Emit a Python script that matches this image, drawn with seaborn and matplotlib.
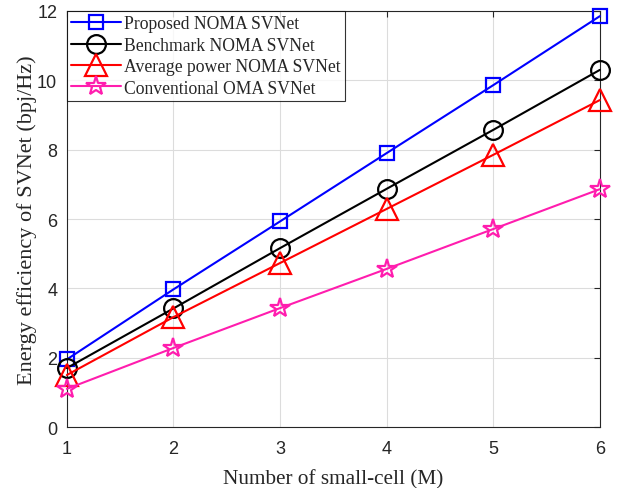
import pandas as pd
import seaborn as sns
import matplotlib.pyplot as plt

# Data
M = [1, 2, 3, 4, 5, 6]
proposed = [1.95, 3.97, 5.93, 7.90, 9.86, 11.85]
benchmark = [1.70, 3.42, 5.16, 6.87, 8.57, 10.30]
average = [1.50, 3.17, 4.73, 6.29, 7.85, 9.43]
conventional = [1.10, 2.28, 3.43, 4.56, 5.71, 6.86]

names = ['Proposed NOMA SVNet', 'Benchmark NOMA SVNet',
         'Average power NOMA SVNet', 'Conventional OMA SVNet']
series = [proposed, benchmark, average, conventional]
colors = ['#0000ff', '#000000', '#ff0000', '#ff1dae']
markers = ['s', 'o', '^', '*']
msizes = [10, 13.5, 16, 15]

sns.set_style('white')
plt.rcParams['font.family'] = ['Liberation Serif', 'DejaVu Serif']

fig = plt.figure(figsize=(6.19, 4.89), dpi=100)
ax = fig.add_axes([0.108, 0.1247, 0.861, 0.8508])

for name, vals, c, mk, ms in zip(names, series, colors, markers, msizes):
    df = pd.DataFrame({'M': M, 'EE': vals})
    sns.lineplot(data=df, x='M', y='EE', ax=ax, color=c, marker=mk,
                 markersize=ms, mfc='none', mec=c, mew=1.6, lw=1.5,
                 label=name, clip_on=False, zorder=3)

ax.set_xlim(1, 6)
ax.set_ylim(0, 12)
ax.set_xticks(M)
ax.set_yticks(range(0, 13, 2))
ax.grid(True, color='#dcdcdc', lw=0.8)
ax.tick_params(direction='in', length=4, color='#262626', labelsize=13,
               labelcolor='#262626', top=True, right=True)
ax.tick_params(axis='x', pad=9)
ax.tick_params(axis='y', pad=7)
for lab in ax.get_xticklabels() + ax.get_yticklabels():
    lab.set_fontfamily('Liberation Sans')
for sp in ax.spines.values():
    sp.set_color('#262626')
    sp.set_linewidth(0.8)

ax.set_xlabel('Number of small-cell (M)', fontsize=15.3, labelpad=9)
ax.set_ylabel('Energy efficiency of SVNet (bpj/Hz)', fontsize=16, labelpad=0)

leg = ax.legend(loc='upper left', borderaxespad=0, fontsize=12.7,
                frameon=True, fancybox=False, edgecolor='black',
                handlelength=2.8, labelspacing=0.25, borderpad=0.25,
                handletextpad=0.2)
leg.get_frame().set_linewidth(0.8)
leg.set_zorder(5)

fig.savefig('out.png', dpi=100)
